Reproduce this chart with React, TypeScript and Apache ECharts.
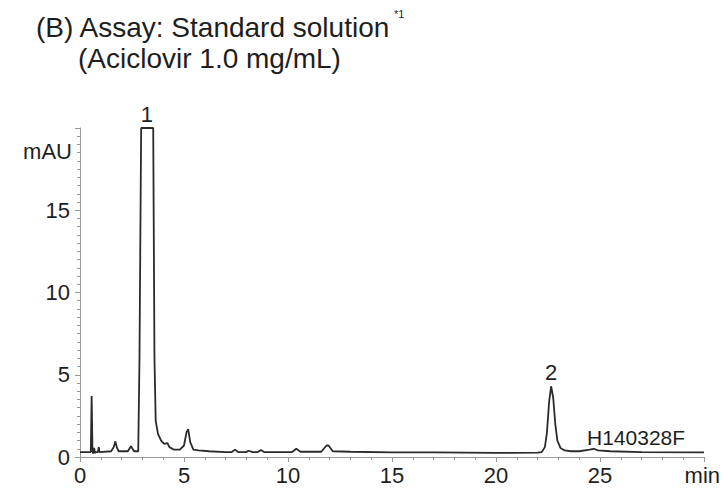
import React, { useEffect, useRef } from "react";
import * as echarts from "echarts";

// Chromatogram: retention time (min) and absorbance (mAU)
const times: number[] = [
  0.0, 0.4, 0.52, 0.56, 0.6, 0.64, 0.68, 0.72, 0.78, 0.86, 0.9, 0.94,
  1.5, 1.62, 1.7, 1.78, 1.86, 2.3, 2.45, 2.6, 2.8, 2.86, 2.94, 3.52, 3.58, 3.64,
  3.75, 3.9, 4.05, 4.2, 4.3, 4.5, 4.8, 5.0, 5.12, 5.2, 5.3, 5.45, 5.7, 6.2,
  7.0, 7.3, 7.45, 7.6, 8.0, 8.1, 8.3, 8.55, 8.7, 8.85, 10.2, 10.4, 10.6,
  11.6, 11.85, 11.95, 12.15, 13.0, 15.0, 17.0, 20.0, 22.0, 22.2, 22.35, 22.45,
  22.55, 22.65, 22.75, 22.85, 22.95, 23.1, 23.3, 23.6, 24.0, 24.5, 24.7, 24.9,
  25.5, 27.0, 30.0,
];
const absorbance: number[] = [
  0.3, 0.3, 0.3, 3.7, 0.35, 0.2, 0.55, 0.25, 0.3, 0.3, 0.6, 0.3,
  0.35, 0.6, 0.95, 0.55, 0.35, 0.35, 0.65, 0.35, 0.35, 6.0, 20, 20, 6.0, 2.2,
  1.4, 1.0, 0.8, 0.85, 0.6, 0.45, 0.45, 0.7, 1.5, 1.7, 0.9, 0.45, 0.4, 0.35,
  0.3, 0.3, 0.45, 0.3, 0.3, 0.38, 0.3, 0.3, 0.42, 0.3, 0.3, 0.5, 0.32,
  0.32, 0.7, 0.7, 0.35, 0.32, 0.28, 0.28, 0.25, 0.27, 0.3, 0.6, 1.5,
  3.3, 4.3, 3.6, 2.0, 1.0, 0.55, 0.4, 0.35, 0.35, 0.45, 0.5, 0.4,
  0.35, 0.3, 0.28,
];

const peakLabels: string[] = ["1", "2"];
const peakTimes: number[] = [3.22, 22.65];
const peakHeights: number[] = [20, 4.3];

const xTicks = { min: 0, max: 30, interval: 5 };
const yTicks = { min: 0, max: 20, interval: 5 };

const titleLine1 = "(B) Assay: Standard solution";
const titleSup = "*1";
const titleLine2 = "(Aciclovir 1.0 mg/mL)";
const yUnit = "mAU";
const xUnit = "min";
const sampleId = "H140328F";

const FONT = "'Liberation Sans', Arial, Helvetica, sans-serif";
const AXIS_COLOR = "#9a9a9a";
const TEXT_COLOR = "#1e1e1e";

export default function App() {
  const ref = useRef<HTMLDivElement>(null);

  useEffect(() => {
    if (!ref.current) return;
    document.body.style.margin = "0";
    document.documentElement.style.overflow = "hidden";
    document.body.style.overflow = "hidden";
    const chart = echarts.init(ref.current, null, { renderer: "svg" });
    const data = times.map((t, i) => [t, absorbance[i]]);
    chart.setOption({
      animation: false,
      backgroundColor: "#ffffff",
      textStyle: { fontFamily: FONT },
      grid: { left: 80, right: 18, top: 128, bottom: 33 },
      xAxis: {
        type: "value",
        min: xTicks.min,
        max: xTicks.max,
        interval: xTicks.interval,
        axisLine: { show: true, lineStyle: { color: AXIS_COLOR, width: 1 } },
        axisTick: { show: true, length: 5, lineStyle: { color: AXIS_COLOR } },
        minorTick: { show: true, splitNumber: 5, length: 3, lineStyle: { color: AXIS_COLOR } },
        splitLine: { show: false },
        axisLabel: {
          fontSize: 22,
          color: TEXT_COLOR,
          fontFamily: FONT,
          margin: 7,
          formatter: (v: number) => (v === xTicks.max ? "" : String(v)),
        },
      },
      yAxis: {
        type: "value",
        min: yTicks.min,
        max: yTicks.max,
        interval: yTicks.interval,
        axisLine: { show: true, lineStyle: { color: AXIS_COLOR, width: 1 } },
        axisTick: { show: true, length: 5, lineStyle: { color: AXIS_COLOR } },
        minorTick: { show: true, splitNumber: 10, length: 3, lineStyle: { color: AXIS_COLOR } },
        splitLine: { show: false },
        axisLabel: {
          fontSize: 22,
          color: TEXT_COLOR,
          fontFamily: FONT,
          margin: 10,
          formatter: (v: number) => (v === yTicks.max ? "" : String(v)),
        },
      },
      series: [
        {
          type: "line",
          data,
          showSymbol: false,
          symbol: "none",
          lineStyle: { color: "#2b2b2b", width: 1.8 },
          markPoint: {
            symbol: "circle",
            symbolSize: 0,
            silent: true,
            label: {
              show: true,
              position: "top",
              distance: 3,
              fontSize: 22,
              color: TEXT_COLOR,
              fontFamily: FONT,
            },
            data: peakLabels.map((name, i) => ({
              name,
              coord: [peakTimes[i], peakHeights[i]],
              label: { formatter: name },
            })),
          },
        },
      ],
      graphic: [
        {
          type: "text",
          left: 36,
          top: 13,
          style: { text: titleLine1, font: `28px ${FONT}`, fill: TEXT_COLOR },
        },
        {
          type: "text",
          left: 394,
          top: 8,
          style: { text: titleSup, font: `11px ${FONT}`, fill: TEXT_COLOR },
        },
        {
          type: "text",
          left: 78,
          top: 44,
          style: { text: titleLine2, font: `28px ${FONT}`, fill: TEXT_COLOR },
        },
        {
          type: "text",
          right: 722 - 72,
          top: 140,
          style: { text: yUnit, font: `22px ${FONT}`, fill: TEXT_COLOR },
        },
        {
          type: "text",
          right: 2,
          top: 457 + 7,
          style: { text: xUnit, font: `22px ${FONT}`, fill: TEXT_COLOR },
        },
        {
          type: "text",
          left: 587,
          top: 427,
          style: { text: sampleId, font: `21px ${FONT}`, fill: TEXT_COLOR },
        },
      ],
    });
    return () => chart.dispose();
  }, []);

  return <div ref={ref} style={{ width: 722, height: 490 }} />;
}
